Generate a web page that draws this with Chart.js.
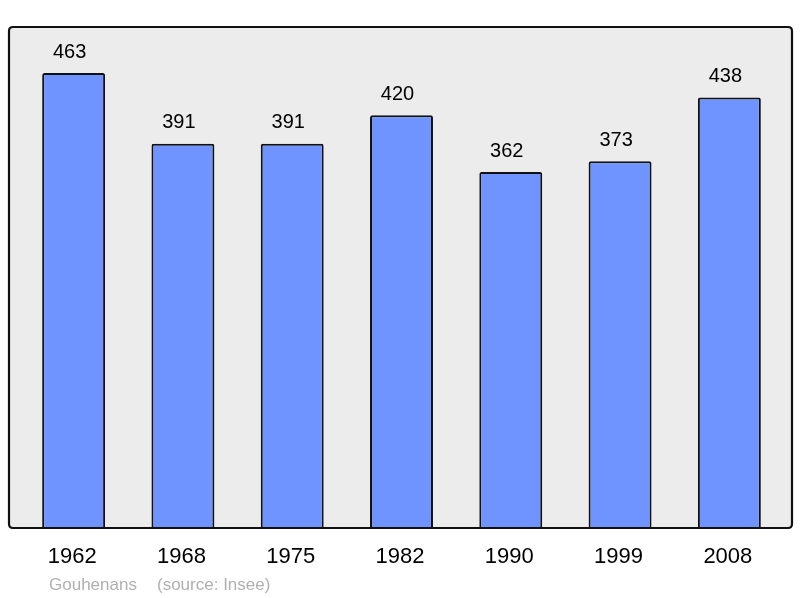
<!DOCTYPE html>
<html>
<head>
<meta charset="utf-8">
<script src="https://cdn.jsdelivr.net/npm/chart.js@4"></script>
<style>
  html, body { margin: 0; padding: 0; background: #fff; }
  #wrap { width: 800px; height: 598px; }
</style>
</head>
<body>
<div id="wrap"><canvas id="myChart" width="800" height="598"></canvas></div>
<script>
// population data
const years = ['1962', '1968', '1975', '1982', '1990', '1999', '2008'];
const population = [463, 391, 391, 420, 362, 373, 438];
const placeName = 'Gouhenans';
const sourceText = '(source: Insee)';

const FONT = '"Liberation Sans", Arial, sans-serif';

// grey frame behind the bars, border drawn on top
const framePlugin = {
	id: 'frame',
	beforeDatasetsDraw(chart) {
		const ctx = chart.ctx;
		const a = chart.chartArea;
		ctx.save();
		ctx.fillStyle = '#ececec';
		roundRect(ctx, a.left - 10, 27, a.right - a.left + 18, 501, 4);
		ctx.fill();
		ctx.restore();
	},
	afterDatasetsDraw(chart) {
		const ctx = chart.ctx;
		const a = chart.chartArea;
		ctx.save();
		ctx.strokeStyle = '#111';
		ctx.lineWidth = 2.2;
		roundRect(ctx, a.left - 10, 27, a.right - a.left + 18, 501, 4);
		ctx.stroke();

		// values above bars
		const meta = chart.getDatasetMeta(0);
		ctx.fillStyle = '#000';
		ctx.font = '20px ' + FONT;
		ctx.textAlign = 'center';
		ctx.textBaseline = 'middle';
		meta.data.forEach((bar, i) => {
			ctx.fillText(population[i], bar.x - 4, bar.y - 21);
		});

		// year labels from the x scale
		const xs = chart.scales.x;
		ctx.font = '22px ' + FONT;
		years.forEach((y, i) => {
			ctx.fillText(y, xs.getPixelForValue(i) - 1.5, 557);
		});

		// source line
		ctx.fillStyle = '#b0b0b0';
		ctx.font = '17px ' + FONT;
		ctx.textAlign = 'left';
		ctx.fillText(placeName, 49, 585);
		ctx.fillText(sourceText, 157, 585);
		ctx.restore();
	}
};

function roundRect(ctx, x, y, w, h, r) {
	ctx.beginPath();
	ctx.moveTo(x + r, y);
	ctx.lineTo(x + w - r, y);
	ctx.quadraticCurveTo(x + w, y, x + w, y + r);
	ctx.lineTo(x + w, y + h - r);
	ctx.quadraticCurveTo(x + w, y + h, x + w - r, y + h);
	ctx.lineTo(x + r, y + h);
	ctx.quadraticCurveTo(x, y + h, x, y + h - r);
	ctx.lineTo(x, y + r);
	ctx.quadraticCurveTo(x, y, x + r, y);
	ctx.closePath();
}

var ctx = document.getElementById('myChart').getContext('2d');
var myChart = new Chart(ctx, {
	type: 'bar',
	data: {
		labels: years,
		datasets: [{
			data: population,
			backgroundColor: '#7094ff',
			borderColor: '#111',
			borderWidth: 2,
			borderRadius: 2,
			borderSkipped: 'bottom',
			barPercentage: 0.576,
			categoryPercentage: 1
		}]
	},
	options: {
		responsive: false,
		animation: false,
		events: [],
		layout: { padding: { left: 19, right: 16, top: 27, bottom: 71 } },
		plugins: {
			legend: { display: false },
			tooltip: { enabled: false }
		},
		scales: {
			x: { display: false },
			y: { display: false, min: 0, max: 510 }
		}
	},
	plugins: [framePlugin]
});
</script>
</body>
</html>
